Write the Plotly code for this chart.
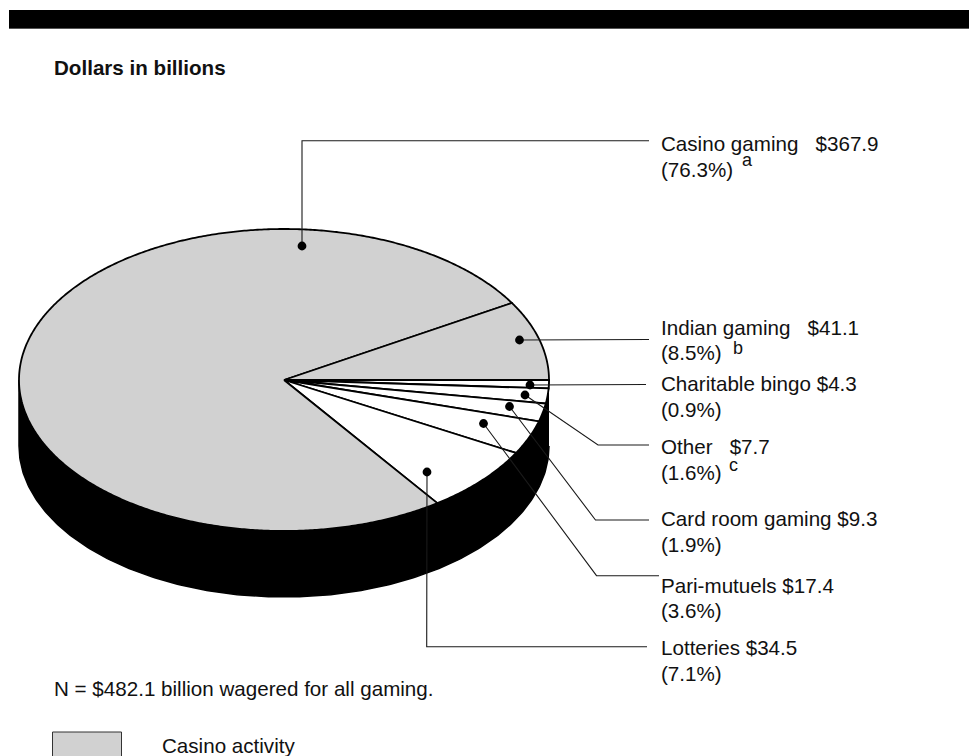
import numpy as np
import plotly.graph_objects as go

# ---- data (dollars in billions), clockwise from 3 o'clock
categories = ["Charitable bingo", "Other", "Card room gaming", "Pari-mutuels",
              "Lotteries", "Casino gaming", "Indian gaming"]
values = [4.3, 7.7, 9.3, 17.4, 34.5, 367.9, 41.1]
percents = ["0.9", "1.6", "1.9", "3.6", "7.1", "76.3", "8.5"]
superscripts = ["", "c", "", "", "", "a", "b"]
gaps = [1, 3, 1, 1, 1, 3, 3]
casino_activity = [False, False, False, False, False, True, True]

TITLE = "Dollars in billions"
NOTE = "N = $482.1 billion wagered for all gaming."
LEGEND = "Casino activity"

GRAY = "#d1d1d1"
FONT = "Liberation Sans"
FS = 20.6

# ---- page geometry (pixels of the 969x756 page)
W, H = 969, 756
CX, CY, RX, RY, DEPTH = 284, 380, 265, 151, 66

# leader polylines and label anchors for each category
leaders = {
    "Charitable bingo": [(530, 385), (646, 384.5)],
    "Other": [(525, 395), (598, 445), (649, 445)],
    "Card room gaming": [(509.5, 406.5), (595.5, 520), (649, 520)],
    "Pari-mutuels": [(483.5, 423.5), (596.5, 575.7), (659, 575.7)],
    "Lotteries": [(427, 472), (426.7, 646.7), (647, 646.7)],
    "Casino gaming": [(302, 246), (302, 140.7), (649, 140.7)],
    "Indian gaming": [(519.5, 340), (649, 339.5)],
}
label_y = {
    "Charitable bingo": (383, 409),
    "Other": (446, 472),
    "Card room gaming": (518, 544),
    "Pari-mutuels": (585, 610),
    "Lotteries": (647, 673),
    "Casino gaming": (143, 169),
    "Indian gaming": (327, 352),
}
sup_pos = {"Casino gaming": (740.5, 160), "Indian gaming": (731.5, 348), "Other": (727.5, 465)}


def ell(t, dy=0.0):
    return CX + RX * np.cos(t), CY + RY * np.sin(t) + dy


fig = go.Figure()

# black rim: front half of the disc, extruded downward
t = np.linspace(0, np.pi, 240)
x1, y1 = ell(t)
x2, y2 = ell(t[::-1], DEPTH)
fig.add_trace(go.Scatter(x=np.r_[x1, x2], y=np.r_[y1, y2], mode="lines", fill="toself",
                         fillcolor="black", line=dict(color="black", width=1.5),
                         hoverinfo="skip", showlegend=False))

# top-surface wedges, angles proportional to the values
total = sum(values)
start = 0.0
for name, v, is_casino in zip(categories, values, casino_activity):
    stop = start + v / total * 2 * np.pi
    t = np.linspace(start, stop, max(3, int((stop - start) * 120)))
    x, y = ell(t)
    fig.add_trace(go.Scatter(x=np.r_[CX, x, CX], y=np.r_[CY, y, CY], mode="lines", fill="toself",
                             fillcolor=GRAY if is_casino else "white",
                             line=dict(color="black", width=1.8, simplify=False),
                             name=name, hoverinfo="name", showlegend=False))
    start = stop

shapes = []
# header bar with its thin grey lower edge
shapes.append(dict(type="rect", x0=9, x1=W + 5, y0=27.5, y1=29, fillcolor="#555555",
                   line=dict(width=0), layer="below"))
shapes.append(dict(type="rect", x0=9, x1=W + 5, y0=10, y1=28, fillcolor="black",
                   line=dict(width=0), layer="below"))
# legend swatch
shapes.append(dict(type="rect", x0=52.5, x1=121.5, y0=732, y1=H + 10, fillcolor=GRAY,
                   line=dict(color="#333333", width=1), layer="below"))

# leader lines and dots
for name in categories:
    pts = leaders[name]
    path = "M" + " L".join(f"{px},{py}" for px, py in pts)
    shapes.append(dict(type="path", path=path, line=dict(color="#1a1a1a", width=1.1)))
    px, py = pts[0]
    rx = 4.4
    shapes.append(dict(type="circle", x0=px - rx, x1=px + rx, y0=py - rx, y1=py + rx,
                       fillcolor="black", line=dict(width=0)))

ann = []


def text(x, y, s, size=FS, bold=False):
    ann.append(dict(x=x, y=y, text=f"<b>{s}</b>" if bold else s, xref="x", yref="y",
                    xanchor="left", yanchor="middle", showarrow=False, borderpad=0,
                    font=dict(family=FONT, size=size, color="#111111")))


for name, v, p, s, g in zip(categories, values, percents, superscripts, gaps):
    y1_, y2_ = label_y[name]
    text(660, y1_, name + "\u00a0" * g + f"${v}")
    text(660, y2_, f"({p}%)")
    if s:
        text(sup_pos[name][0], sup_pos[name][1], s, size=18)

text(52.5, 67.5, TITLE, size=FS, bold=True)
text(52.5, 688, NOTE)
text(161, 745, LEGEND)

fig.update_layout(
    width=W, height=H, margin=dict(l=0, r=0, t=0, b=0),
    paper_bgcolor="white", plot_bgcolor="white", showlegend=False,
    xaxis=dict(range=[0, W], visible=False, fixedrange=True),
    yaxis=dict(range=[H, 0], visible=False, fixedrange=True),
    shapes=shapes, annotations=ann,
)
fig.write_html("out.html", config={"displayModeBar": False},
               post_script="document.body.style.margin='0';document.documentElement.style.overflow='hidden';")
